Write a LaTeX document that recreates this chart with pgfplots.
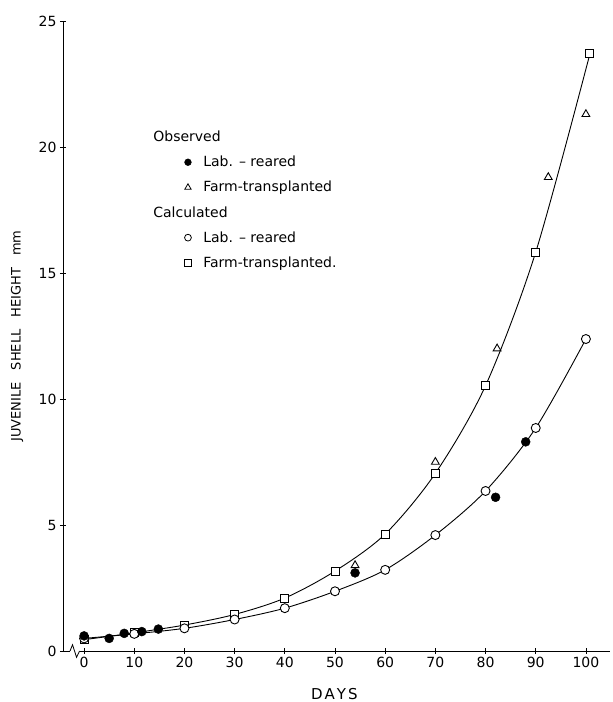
\documentclass[border=0pt]{standalone}
\usepackage{pgfplots}
\pgfplotsset{compat=1.18}
\usepackage{fontspec}
\setmainfont{DejaVu Sans}
\begin{document}
\begin{tikzpicture}
\useasboundingbox (0,0) rectangle (613pt,702pt);
\begin{axis}[
  at={(63pt,51pt)}, anchor=south west,
  scale only axis, width=547pt, height=630pt,
  xmin=-4.2, xmax=104.8, ymin=0, ymax=25,
  axis lines*=left,
  axis line style={black, line width=0.8pt},
  clip=false,
  xtick={0,10,...,100}, ytick={0,5,...,25},
  tick style={black, line width=0.8pt},
  tick align=center, major tick length=6pt,
  tick label style={font=\fontsize{14}{16}\selectfont},
  /pgf/number format/assume math mode=true,
  xlabel={D\kern2pt A\kern2pt Y\kern2pt S},
  xlabel style={font=\fontsize{15}{17}\selectfont, at={(axis description cs:0.496,0)}, anchor=center, yshift=-43pt},
  ylabel={JUVENILE\hspace{12pt}SHELL\hspace{12pt}HEIGHT\hspace{12pt}mm},
  ylabel style={font=\fontsize{13}{15}\selectfont, at={(axis description cs:-0.084,0.5)}, anchor=center},
  legend style={draw=none, fill=none, at={(axis description cs:0.207,0.832)}, anchor=north west,
    font=\fontsize{14}{16}\selectfont, row sep=9pt, cells={anchor=west}},
  legend cell align=left,
]
\addlegendimage{empty legend}
\addlegendentry{\hspace{-40pt}Observed}
\addlegendimage{only marks, mark=*, mark size=3.4pt, black}
\addlegendentry{\hspace{10pt}Lab. -- reared}
\addlegendimage{only marks, mark=triangle, mark size=3.6pt, black, line width=0.8pt}
\addlegendentry{\hspace{10pt}Farm-transplanted}
\addlegendimage{empty legend}
\addlegendentry{\hspace{-40pt}Calculated}
\addlegendimage{only marks, mark=o, mark size=3.4pt, black, line width=0.8pt}
\addlegendentry{\hspace{10pt}Lab. -- reared}
\addlegendimage{only marks, mark=square, mark size=3.2pt, black, line width=0.8pt}
\addlegendentry{\hspace{10pt}Farm-transplanted.}

% Calculated, farm-transplanted
\addplot[forget plot, black, line width=0.9pt, smooth, mark=square*, mark size=4pt,
  mark options={fill=white, draw=black, line width=0.9pt}] coordinates {
  (0,0.45) (10,0.72) (20,1.03) (30,1.45) (40,2.1) (50,3.17) (60,4.64)
  (70,7.05) (80,10.53) (90,15.83) (100.8,23.7)};
% Calculated, lab-reared
\addplot[forget plot, black, line width=0.9pt, smooth, mark=*, mark size=4.5pt,
  mark options={fill=white, draw=black, line width=0.9pt}] coordinates {
  (0,0.5) (10,0.68) (20,0.9) (30,1.25) (40,1.7) (50,2.37) (60,3.22)
  (70,4.6) (80,6.35) (90,8.85) (100,12.38)};
% Observed, farm-transplanted
\addplot[forget plot, only marks, black, mark=triangle, mark size=4.5pt,
  mark options={line width=0.9pt}] coordinates {
  (54,3.4) (70,7.5) (82.3,12.0) (92.5,18.8) (100,21.3)};
% Observed, lab-reared
\addplot[forget plot, only marks, black, mark=*, mark size=4.5pt] coordinates {
  (0,0.6) (5,0.5) (8,0.7) (11.5,0.77) (14.8,0.87) (54,3.1) (82,6.1) (88,8.3)};

% axis break mark
\fill[white] (axis cs:-2.8,-0.12) rectangle (axis cs:-0.9,0.12);
\draw[black, line width=0.8pt] (axis cs:-2.8,0) -- (axis cs:-2.3,0.25) -- (axis cs:-1.5,-0.25) -- (axis cs:-0.9,0);
\end{axis}
\end{tikzpicture}
\end{document}
